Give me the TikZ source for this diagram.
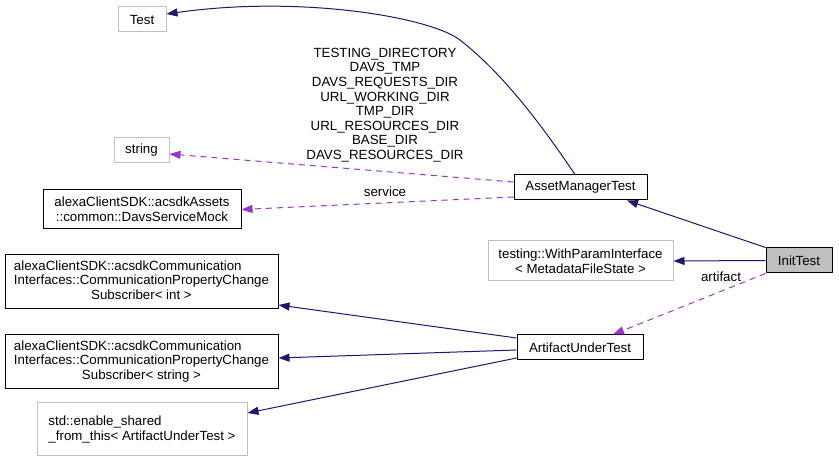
\documentclass[tikz,border=0pt]{standalone}
\usepackage{fontspec}
\setmainfont{Liberation Sans}
\usetikzlibrary{arrows.meta}
\definecolor{navyedge}{HTML}{191970}
\definecolor{orchidedge}{HTML}{9A32CD}
\definecolor{greyborder}{HTML}{BFBFBF}
\begin{document}
\begin{tikzpicture}[x=1pt,y=-1pt,
  txt/.style={font=\fontsize{13.3}{14.6}\selectfont},
  cls/.style={txt, draw=black, line width=1pt, inner sep=0pt, align=center},
  extcls/.style={cls, draw=greyborder},
  inh/.style={draw=navyedge, line width=1pt, -{Triangle[length=11pt,width=8pt,fill=navyedge]}},
  usage/.style={draw=orchidedge, line width=1pt, dash pattern=on 6pt off 5pt, -{Triangle[length=11pt,width=8pt,fill=orchidedge]}},
  lbl/.style={txt, align=center, inner sep=0pt}]
\useasboundingbox (0,0) rectangle (839,462);
\fill[white] (0,0) rectangle (839,462);

\node[extcls, minimum width=48pt, minimum height=25pt] (test) at (142,19.5) {Test};
\node[extcls, minimum width=55pt, minimum height=25pt] (string) at (141.5,150.5) {string};
\node[cls, minimum width=198pt, minimum height=39pt] (davs) at (142,209.5) {alexaClientSDK::acsdkAssets\\::common::DavsServiceMock};
\node[cls, minimum width=133pt, minimum height=25pt] (amt) at (580.5,187.5) {AssetManagerTest};
\node[cls, fill=greyborder, minimum width=66pt, minimum height=25pt] (init) at (799,260.5) {InitTest};
\node[extcls, minimum width=185pt, minimum height=40pt] (wpi) at (580.5,261) {testing::WithParamInterface\\< MetadataFileState >};
\node[cls, minimum width=126pt, minimum height=25pt] (aut) at (580,347.5) {ArtifactUnderTest};
\node[cls, minimum width=273pt, minimum height=54pt] (cint) at (141.5,282) {\begin{tabular}{@{}l@{}}alexaClientSDK::acsdkCommunication\\Interfaces::CommunicationPropertyChange\\\multicolumn{1}{@{}c@{}}{Subscriber< int >}\end{tabular}};
\node[cls, minimum width=273pt, minimum height=54pt] (cstr) at (141.5,362) {\begin{tabular}{@{}l@{}}alexaClientSDK::acsdkCommunication\\Interfaces::CommunicationPropertyChange\\\multicolumn{1}{@{}c@{}}{Subscriber< string >}\end{tabular}};
\node[extcls, minimum width=210pt, minimum height=53pt, align=left] (esh) at (142,429.5) {std::enable\_shared\\\_from\_this< ArtifactUnderTest >};

\node[lbl] (dirs) at (385,105) {TESTING\_DIRECTORY\\DAVS\_TMP\\DAVS\_REQUESTS\_DIR\\URL\_WORKING\_DIR\\TMP\_DIR\\URL\_RESOURCES\_DIR\\BASE\_DIR\\DAVS\_RESOURCES\_DIR};
\node[lbl] (svc) at (385,192) {service};
\node[lbl] (art) at (721,277) {artifact};

\coordinate (bend) at (460,40);
\draw[inh] ([xshift=-5.5pt]amt.north) .. controls (545,130) and (505,75) .. (bend) .. controls (430,17) and (300,-5) .. ([yshift=5.5pt]test.east);
\draw[usage] ([yshift=5.5pt]amt.west) -- ([yshift=-3.5pt]string.east);
\draw[usage] ([yshift=-9.5pt]amt.west) -- (davs.east);
\draw[inh] (init.north west) -- ([xshift=46.5pt]amt.south);
\draw[inh] (init.west) -- (wpi.east);
\draw[usage] (init.south west) -- ([xshift=33pt]aut.north);
\draw[inh] ([yshift=9.5pt]aut.west) -- ([yshift=-23pt]cint.east);
\draw[inh] ([yshift=-2.5pt]aut.west) -- ([yshift=4pt]cstr.east);
\draw[inh] ([yshift=-10.5pt]aut.west) -- ([yshift=16.5pt]esh.east);
\end{tikzpicture}
\end{document}
